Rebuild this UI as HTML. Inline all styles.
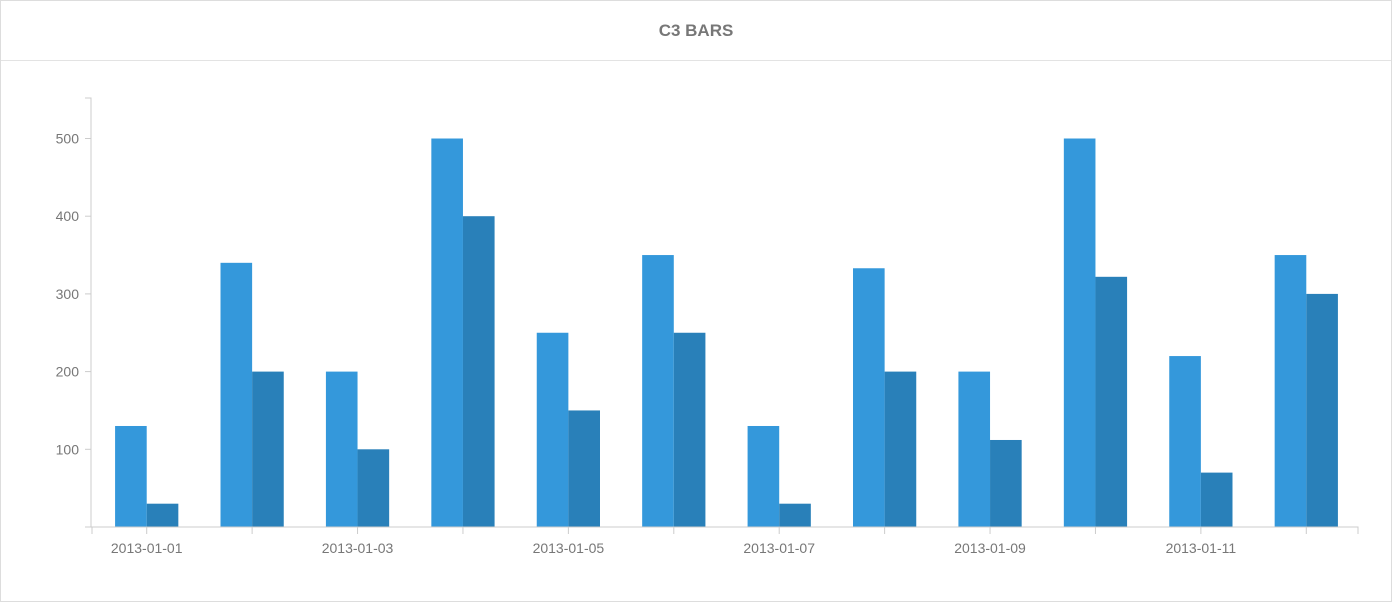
<!DOCTYPE html>
<html><head><meta charset="utf-8"><style>
body{margin:0;background:#fff;font-family:"Liberation Sans",sans-serif}
#panel{position:absolute;left:0;top:0;width:1390px;height:600px;border:1px solid #ddd}
#title{position:absolute;left:0;top:0;width:1390px;height:59px;border-bottom:1px solid #e3e3e3;text-align:center;line-height:60px;font-size:17px;color:#777;font-weight:bold}
svg{position:absolute;left:0;top:0}
</style></head><body>
<div id="panel">
<div id="title">C3 BARS</div>
</div>
<svg id="chart" width="1392" height="602"></svg>
<script>
const categories=["2013-01-01","2013-01-02","2013-01-03","2013-01-04","2013-01-05","2013-01-06","2013-01-07","2013-01-08","2013-01-09","2013-01-10","2013-01-11","2013-01-12"];
const series1=[130,340,200,500,250,350,130,333,200,500,220,350];
const series2=[30,200,100,400,150,250,30,200,112,322,70,300];
const yTicks=[100,200,300,400,500];
const svg=document.getElementById('chart');
const NS='http://www.w3.org/2000/svg';
const x0=94,x1=1359,y0=527,pxPer=0.777;
const step=(x1-x0)/categories.length;
const cx=i=>x0+step*(i+0.5);
const y=v=>y0-v*pxPer;
function mk(t,a){const e=document.createElementNS(NS,t);for(const k in a)e.setAttribute(k,a[k]);svg.appendChild(e);return e;}
const bw=step*0.3;
categories.forEach((c,i)=>{
 const b1=mk('rect',{x:cx(i)-bw,y:y(series1[i]),width:bw,height:y0-y(series1[i]),fill:'#3498db'});
 
 
 const b2=mk('rect',{x:cx(i),y:y(series2[i]),width:bw,height:y0-y(series2[i]),fill:'#2980b9'});
 
 
});
const ya=mk('path',{d:`M85,98H91V${y0}H85`,stroke:'#ccc',fill:'none'});


yTicks.forEach(v=>{
 mk('line',{x1:85,x2:91,y1:y(v),y2:y(v),stroke:'#ccc'});
 const t=mk('text',{x:79,y:y(v)+5,'text-anchor':'end','font-size':14,fill:'#777'});
 t.textContent=v;
 
 
});
const xa=mk('path',{d:`M92,534V${y0}H1358V534`,stroke:'#ccc',fill:'none'});


categories.forEach((c,i)=>{
 mk('line',{x1:cx(i),x2:cx(i),y1:y0,y2:534,stroke:'#ccc'});
 if(i%2===0){
  const t=mk('text',{x:cx(i),y:553,'text-anchor':'middle','font-size':14,fill:'#777'});
  t.textContent=c;
  
  
 }
});
</script>
</body></html>
